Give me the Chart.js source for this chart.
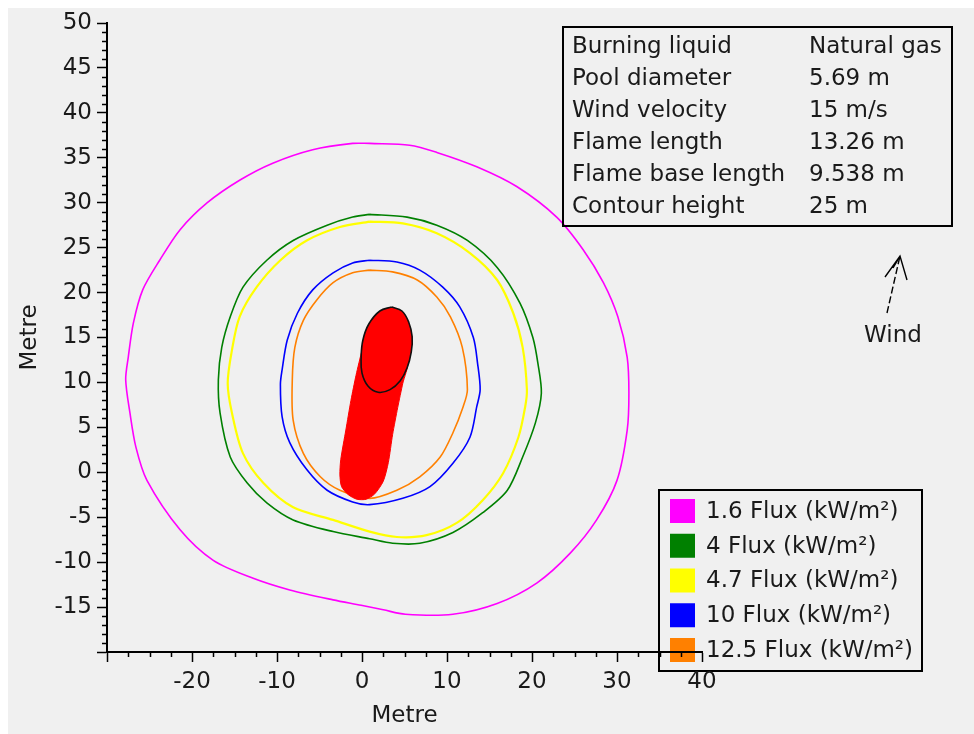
<!DOCTYPE html>
<html>
<head>
<meta charset="utf-8">
<title>Pool fire heat flux contours</title>
<script src="https://cdn.jsdelivr.net/npm/chart.js@4.4.1/dist/chart.umd.min.js"></script>
<style>
    html, body { margin: 0; padding: 0; background: #f0f0f0; }
    canvas { display: block; }
</style>
</head>
<body>
<canvas id="chart" width="974" height="734"></canvas>
<script>
(function () {
    'use strict';

    // flux levels (kW/m²) and their contours, [x, y] in metres
    const fluxLevels = [1.6, 4, 4.7, 10, 12.5];
    const fluxColours = ['#ff00ff', '#008000', '#ffff00', '#0000ff', '#ff8000'];

    const contour16 = [[0.9, 36.6], [5.6, 36.4], [8.8, 35.6], [13.5, 34.0], [18.2, 31.8], [22.9, 28.4], [26.0, 24.8],
        [28.4, 21.1], [30.1, 17.3], [31.2, 12.8], [31.4, 8.8], [31.2, 4.7], [30.0, -0.9], [27.6, -5.3], [24.5, -9.0],
        [20.6, -12.3], [15.9, -14.6], [10.7, -15.8], [5.1, -15.8], [2.5, -15.3], [-0.1, -14.8], [-3.4, -14.2],
        [-8.5, -13.1], [-12.8, -11.8], [-17.5, -9.8], [-21.4, -6.4], [-25.3, -0.9], [-26.6, 2.8], [-27.3, 6.6],
        [-27.8, 10.3], [-27.5, 12.8], [-26.9, 16.6], [-25.8, 20.3], [-23.8, 23.6], [-21.4, 27.0], [-18.2, 30.0],
        [-14.4, 32.5], [-10.5, 34.4], [-5.8, 35.9], [-1.1, 36.6]];

    const contour4 = [[0.9, 28.7], [5.3, 28.4], [8.8, 27.5], [12.4, 25.8], [15.9, 22.8], [18.6, 18.8], [20.1, 15.0],
        [20.7, 12.1], [21.1, 8.8], [20.4, 5.5], [18.9, 1.7], [17.1, -2.0], [14.2, -4.5], [10.7, -6.7], [6.8, -7.9],
        [3.6, -7.9], [0.9, -7.4], [-3.4, -6.6], [-8.1, -5.3], [-11.2, -3.4], [-13.5, -1.2], [-15.5, 1.7],
        [-16.7, 6.6], [-16.9, 10.3], [-16.5, 13.9], [-15.5, 17.3], [-14.0, 20.6], [-11.2, 23.6], [-8.1, 25.8],
        [-4.1, 27.5], [-1.1, 28.4]];

    const contour47 = [[0.9, 27.9], [4.8, 27.7], [8.8, 26.6], [12.7, 24.4], [15.9, 21.4], [17.8, 17.7], [18.9, 13.9],
        [19.4, 9.2], [19.2, 7.3], [18.4, 3.9], [16.6, -0.1], [14.2, -3.1], [11.2, -5.6], [7.6, -7.0], [4.1, -7.2],
        [0.9, -6.6], [-3.4, -5.3], [-8.1, -3.9], [-11.6, -1.2], [-14.0, 2.1], [-15.3, 6.6], [-15.8, 9.9],
        [-15.3, 13.6], [-14.4, 17.3], [-12.4, 20.6], [-9.6, 23.6], [-6.5, 25.8], [-2.6, 27.3]];

    const contour10 = [[0.9, 23.6], [4.1, 23.4], [6.8, 22.5], [9.5, 20.6], [11.5, 18.4], [13.1, 15.0], [13.6, 12.1],
        [13.9, 9.2], [13.5, 7.3], [12.7, 3.9], [10.7, 1.0], [8.0, -1.6], [4.8, -2.9], [0.9, -3.6], [-1.1, -3.3],
        [-4.1, -2.0], [-6.5, 0.3], [-8.5, 3.3], [-9.4, 6.2], [-9.6, 9.8], [-9.4, 11.4], [-8.8, 14.7], [-7.6, 17.7],
        [-5.8, 20.3], [-3.4, 22.2], [-1.1, 23.3]];

    const contour125 = [[0.9, 22.5], [3.6, 22.3], [6.5, 21.4], [8.8, 19.5], [10.4, 17.3], [11.8, 13.9], [12.4, 9.2],
        [11.9, 7.3], [10.7, 4.4], [9.2, 1.7], [6.8, -0.5], [4.1, -2.0], [0.9, -2.9], [-2.6, -2.0], [-4.9, -0.5],
        [-6.9, 2.1], [-8.1, 5.8], [-8.2, 10.3], [-7.9, 13.9], [-6.9, 16.9], [-5.3, 19.2], [-3.4, 21.1], [-1.1, 22.2]];

    const contours = [contour16, contour4, contour47, contour10, contour125];

    // tilted flame footprint (pill) and its top ellipse
    const flameBase = [[0.0, 13.6], [-0.7, 10.8], [-1.3, 8.0], [-1.9, 4.7], [-2.5, 1.4], [-2.6, -0.3], [-2.4, -1.6],
        [-1.6, -2.5], [-0.6, -3.0], [0.5, -3.0], [1.5, -2.4], [2.5, -1.0], [3.1, 1.1], [3.6, 4.2], [4.2, 7.2],
        [4.8, 9.9], [5.4, 12.3], [3.9, 17.0], [1.2, 16.4]];
    const flameTip = [[3.5, 18.4], [4.7, 17.95], [5.5, 16.7], [5.9, 15.1], [5.8, 13.4], [5.3, 11.6], [4.5, 10.2],
        [3.3, 9.2], [1.9, 8.9], [0.7, 9.6], [0.0, 11.05], [-0.1, 12.8], [0.1, 14.7], [0.8, 16.5], [2.1, 17.95]];

    // info table
    const infoLabels = ['Burning liquid', 'Pool diameter', 'Wind velocity', 'Flame length', 'Flame base length', 'Contour height'];
    const infoValues = ['Natural gas', '5.69 m', '15 m/s', '13.26 m', '9.538 m', '25 m'];

    // axes
    const xRange = [-30, 40];
    const yRange = [-20, 50];
    const xMajorStep = 10;
    const xMinorStep = 2.5;
    const yMajorStep = 5;
    const yMinorStep = 1;
    const axisTitle = 'Metre';

    const FONT = '"DejaVu Sans", sans-serif';
    const TEXT = '#1a1a1a';

    const closed = (pts) => {
        const out = pts.map(([x, y]) => ({ x, y }));
        out.push(out[0]);
        return out;
    };

    const datasets = contours.map((pts, i) => ({
        label: fluxLevels[i] + ' Flux (kW/m²)',
        data: closed(pts),
        borderColor: fluxColours[i],
        borderWidth: i === 2 ? 2.2 : 1.6,
        tension: 0.3,
        fill: false,
        order: i + 1
    }));

    datasets.push({
        label: 'Flame',
        data: closed(flameBase),
        borderColor: '#ff0000',
        backgroundColor: '#ff0000',
        borderWidth: 1,
        tension: 0.25,
        fill: 'shape',
        order: 0
    });

    datasets.push({
        label: 'Flame tip',
        data: closed(flameTip),
        borderColor: '#111111',
        backgroundColor: '#ff0000',
        borderWidth: 1.6,
        tension: 0.4,
        fill: 'shape',
        order: -1
    });

    const decor = {
        id: 'decor',
        beforeDraw(chart) {
            const { ctx, width, height } = chart;
            ctx.save();
            ctx.fillStyle = '#ffffff';
            ctx.fillRect(0, 0, width, height);
            ctx.fillStyle = '#f0f0f0';
            ctx.fillRect(8, 8, width - 8, height - 8);

            // legend box
            ctx.strokeStyle = '#000';
            ctx.lineWidth = 2;
            ctx.strokeRect(659, 490, 263, 181);
            ctx.font = '23px ' + FONT;
            ctx.textBaseline = 'middle';
            ctx.textAlign = 'left';
            fluxLevels.forEach((v, i) => {
                const top = 499 + i * 34.75;
                ctx.fillStyle = fluxColours[i];
                ctx.fillRect(670, top, 25, 24);
                ctx.fillStyle = TEXT;
                ctx.fillText(v + ' Flux (kW/m²)', 706, top + 13);
            });
            ctx.restore();
        },
        afterDraw(chart) {
            const { ctx, chartArea } = chart;
            const xs = chart.scales.x;
            const ys = chart.scales.y;
            ctx.save();

            // minor ticks
            ctx.strokeStyle = '#000';
            ctx.lineWidth = 1.5;
            ctx.beginPath();
            for (let v = yRange[0]; v <= yRange[1]; v += yMinorStep) {
                if (v % yMajorStep === 0) continue;
                const py = Math.round(ys.getPixelForValue(v)) + 0.5;
                ctx.moveTo(chartArea.left - 5, py);
                ctx.lineTo(chartArea.left, py);
            }
            for (let v = xRange[0]; v <= xRange[1]; v += xMinorStep) {
                if (v % xMajorStep === 0) continue;
                const px = Math.round(xs.getPixelForValue(v)) + 0.5;
                ctx.moveTo(px, chartArea.bottom);
                ctx.lineTo(px, chartArea.bottom + 5);
            }
            ctx.stroke();

            // info box
            ctx.lineWidth = 2;
            ctx.strokeRect(563, 27, 389, 199);
            ctx.font = '23px ' + FONT;
            ctx.fillStyle = TEXT;
            ctx.textBaseline = 'middle';
            ctx.textAlign = 'left';
            infoLabels.forEach((t, i) => {
                const y = 47 + i * 32.1;
                ctx.fillText(t, 572, y);
                ctx.fillText(infoValues[i], 809, y);
            });

            // wind arrow
            ctx.lineWidth = 1.4;
            ctx.setLineDash([7, 3]);
            ctx.beginPath();
            ctx.moveTo(887, 313);
            ctx.lineTo(900, 256);
            ctx.stroke();
            ctx.setLineDash([]);
            ctx.beginPath();
            ctx.moveTo(885, 277);
            ctx.lineTo(900, 256);
            ctx.lineTo(907, 280);
            ctx.moveTo(893, 268);
            ctx.lineTo(899, 258);
            ctx.stroke();
            ctx.textAlign = 'center';
            ctx.fillText('Wind', 893, 336);
            ctx.restore();
        }
    };

    new Chart(document.getElementById('chart'), {
        type: 'scatter',
        data: { datasets },
        options: {
            responsive: false,
            animation: false,
            devicePixelRatio: 1,
            showLine: true,
            layout: { padding: { left: 0, top: 23, right: 272, bottom: 0 } },
            elements: { point: { radius: 0, hoverRadius: 0 } },
            plugins: { legend: { display: false }, tooltip: { enabled: false } },
            events: [],
            scales: {
                x: {
                    type: 'linear',
                    min: xRange[0],
                    max: xRange[1],
                    border: { display: true, color: '#000', width: 2 },
                    grid: { drawOnChartArea: false, drawTicks: true, tickLength: 10, tickColor: '#000', tickWidth: 1.5 },
                    ticks: {
                        stepSize: xMajorStep,
                        color: TEXT,
                        padding: 6,
                        font: { family: FONT, size: 23 },
                        callback: (v) => (v === xRange[0] ? '' : v)
                    },
                    title: { display: true, text: axisTitle, color: TEXT, font: { family: FONT, size: 23 }, padding: { bottom: 4 } },
                    afterFit: (scale) => { scale.height = 82; }
                },
                y: {
                    type: 'linear',
                    min: yRange[0],
                    max: yRange[1],
                    border: { display: true, color: '#000', width: 2 },
                    grid: { drawOnChartArea: false, drawTicks: true, tickLength: 10, tickColor: '#000', tickWidth: 1.5 },
                    ticks: {
                        stepSize: yMajorStep,
                        color: TEXT,
                        padding: 5,
                        font: { family: FONT, size: 23 },
                        callback: (v) => (v === yRange[0] ? '' : v)
                    },
                    title: { display: true, text: axisTitle, color: TEXT, font: { family: FONT, size: 23 }, padding: { top: 16 } },
                    afterFit: (scale) => { scale.width = 107; }
                }
            }
        },
        plugins: [decor]
    });
})();
</script>
</body>
</html>
